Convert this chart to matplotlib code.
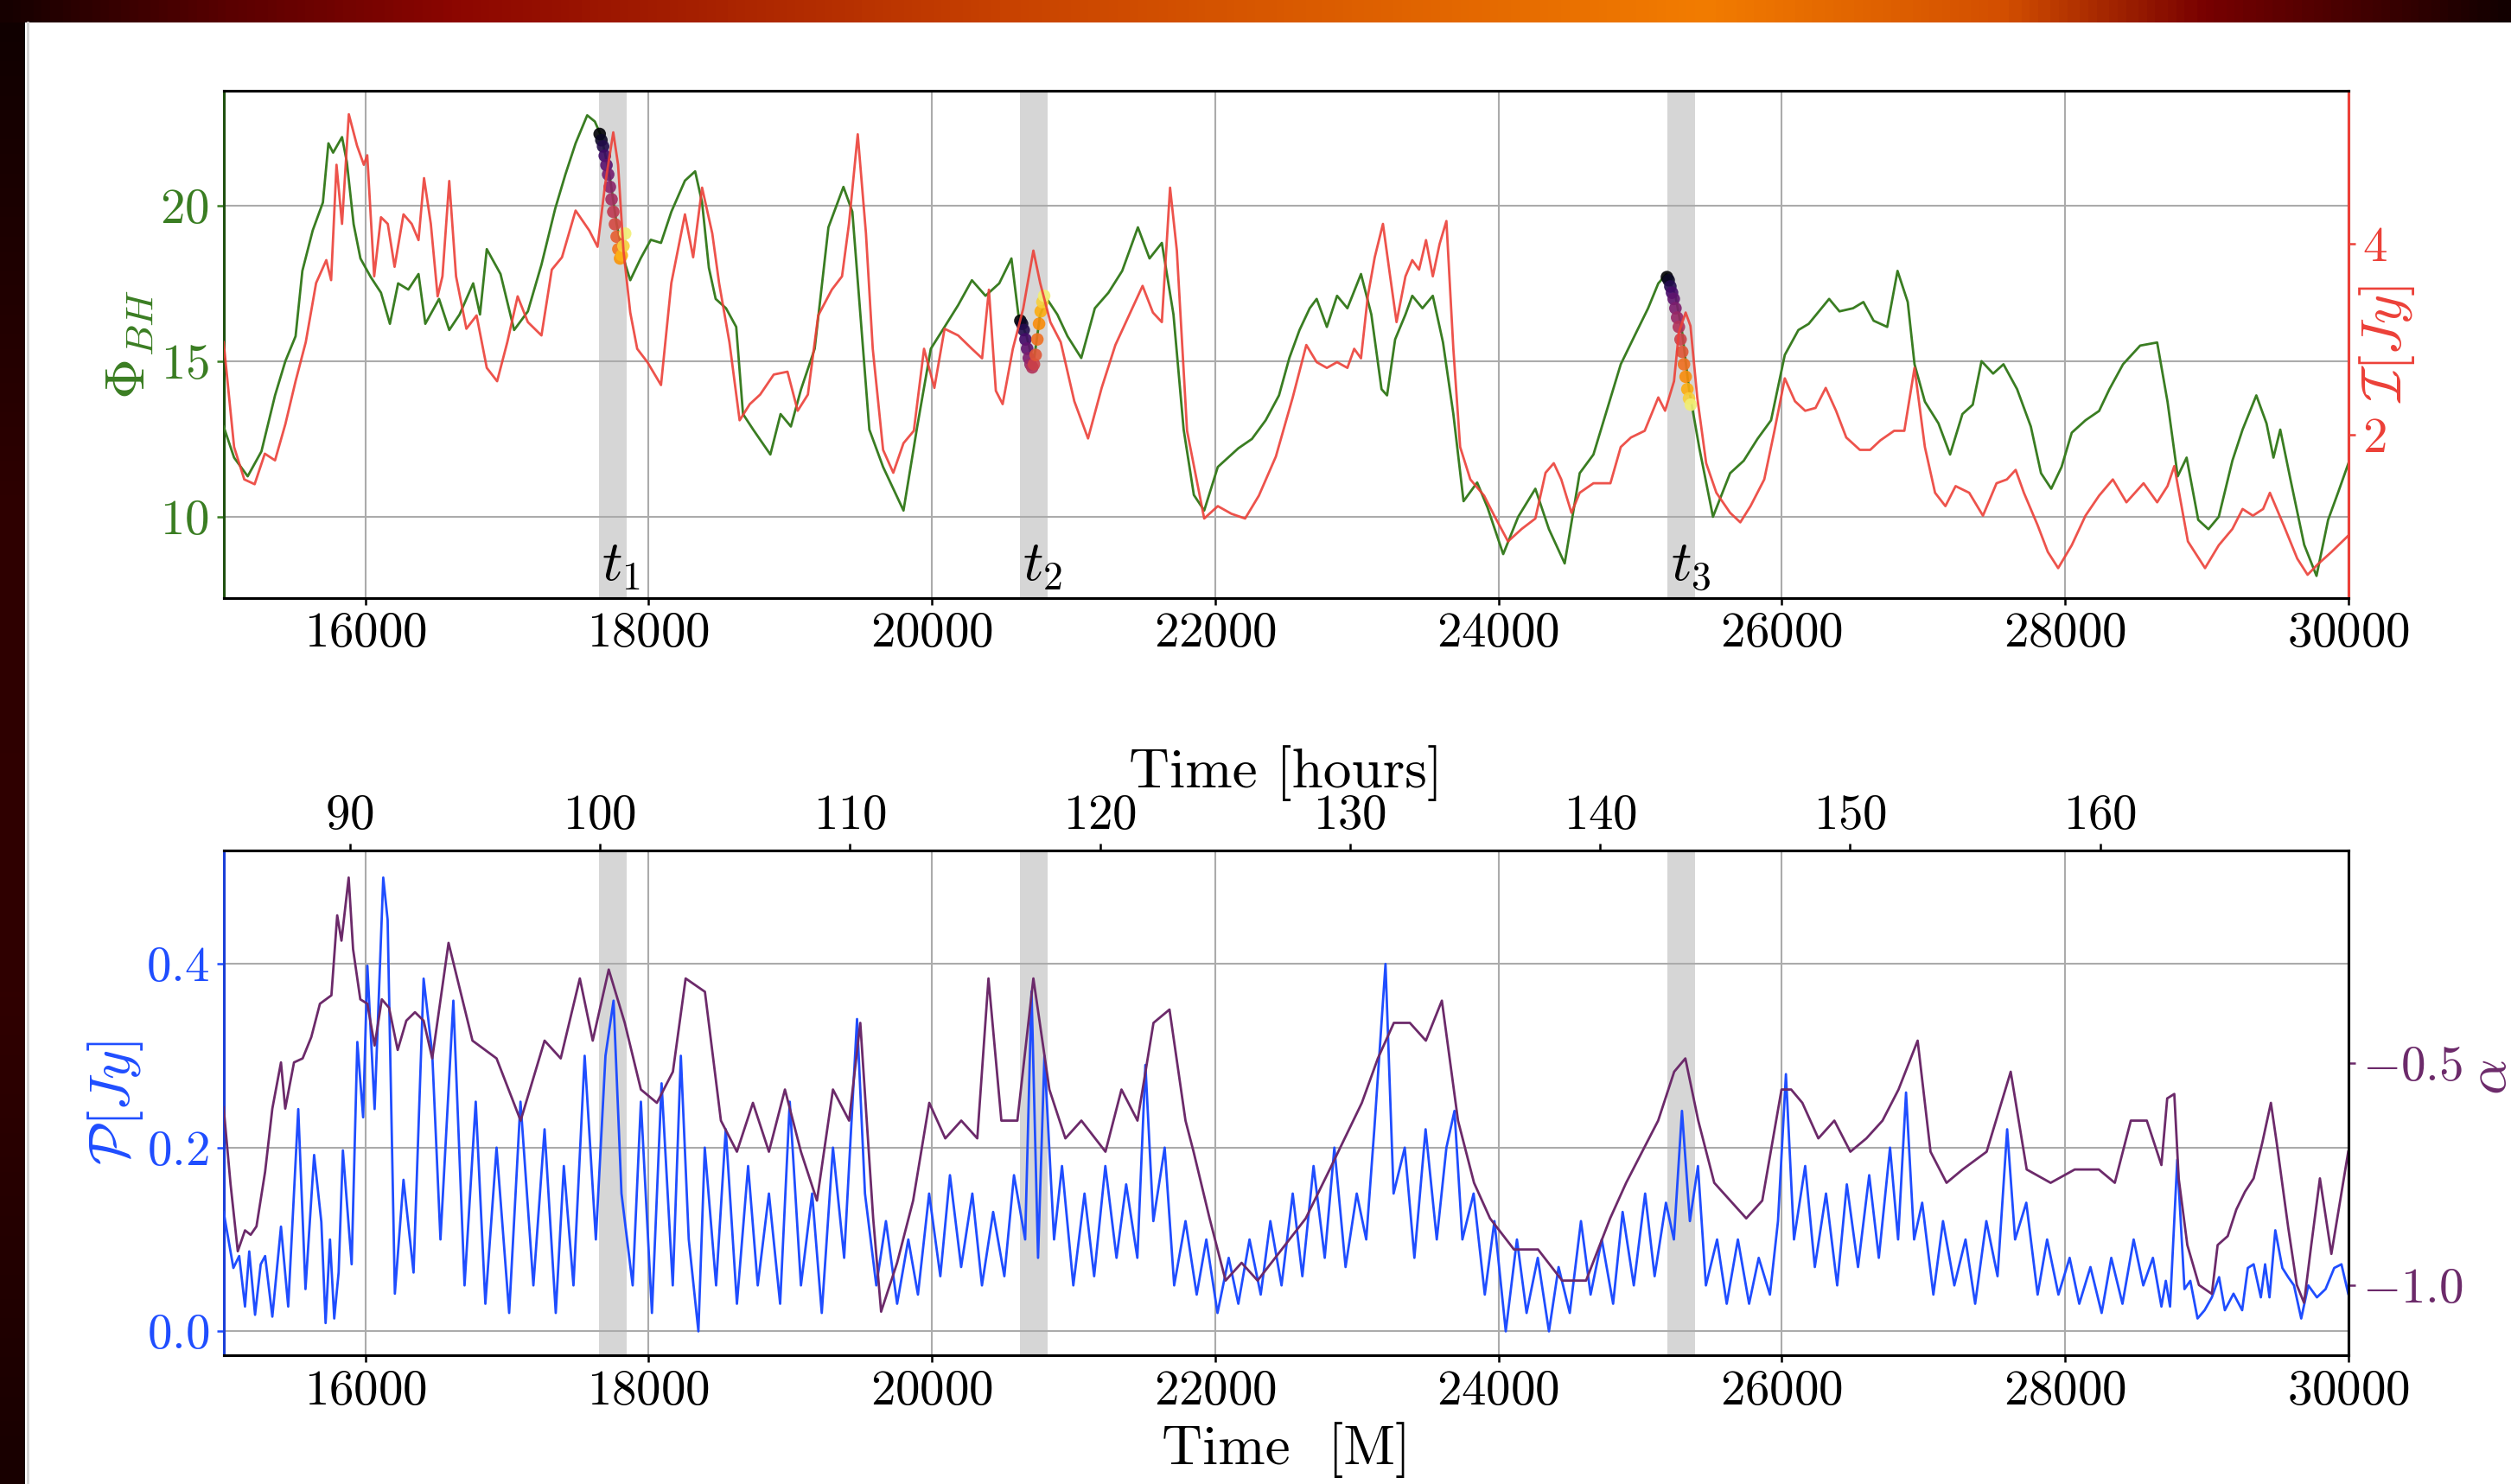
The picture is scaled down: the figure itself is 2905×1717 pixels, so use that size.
import numpy as np
import matplotlib.pyplot as plt
from matplotlib.colors import LinearSegmentedColormap

plt.rcParams.update({
    'font.family': 'serif',
    'font.serif': ['cmr10'],
    'mathtext.fontset': 'cm',
    'axes.formatter.use_mathtext': True,
})

# ---- data (time in M) ----
phi_pts = [(15000,12.9),(15074,11.9),(15170,11.3),(15267,12.1),(15363,13.9),(15436,15.0),(15508,15.8),(15556,17.9),(15629,19.2),(15701,20.1),(15740,22.0),(15773,21.7),(15836,22.2),(15870,21.4),(15918,19.4),(15966,18.3),(16039,17.7),(16111,17.2),(16174,16.2),(16232,17.5),(16304,17.3),(16376,17.8),(16424,16.2),(16521,17.0),(16593,16.0),(16666,16.5),(16762,17.5),(16810,16.5),(16858,18.6),(16955,17.8),(17051,16.0),(17148,16.6),(17244,18.1),(17341,19.9),(17413,21.0),(17485,22.0),(17567,22.9),(17621,22.7),(17669,22.2),(17727,20.9),(17775,19.4),(17823,18.3),(17871,17.6),(17944,18.3),(18016,18.9),(18088,18.8),(18161,19.8),(18257,20.8),(18329,21.1),(18378,20.1),(18426,18.0),(18474,17.0),(18547,16.7),(18619,16.1),(18667,13.3),(18739,12.8),(18860,12.0),(18932,13.3),(19005,12.9),(19077,14.1),(19173,15.4),(19270,19.3),(19376,20.6),(19439,19.8),(19487,17.0),(19559,12.8),(19656,11.6),(19800,10.2),(19897,12.9),(19993,15.4),(20090,16.1),(20186,16.8),(20283,17.6),(20379,17.1),(20476,17.5),(20562,18.3),(20611,16.5),(20669,15.8),(20717,14.9),(20765,16.5),(20813,17.0),(20886,16.5),(20958,15.8),(21055,15.1),(21151,16.7),(21247,17.2),(21344,17.9),(21455,19.3),(21537,18.3),(21624,18.8),(21706,16.5),(21778,12.8),(21850,10.7),(21923,10.2),(22019,11.6),(22164,12.2),(22260,12.5),(22357,13.1),(22451,13.9),(22524,15.1),(22596,16.0),(22668,16.7),(22717,17.0),(22789,16.1),(22861,17.1),(22934,16.7),(23030,17.8),(23103,16.5),(23175,14.1),(23214,13.9),(23271,15.7),(23344,16.5),(23392,17.1),(23464,16.7),(23537,17.1),(23609,15.6),(23682,13.3),(23754,10.5),(23850,11.1),(23923,10.3),(24034,8.8),(24140,10.0),(24261,10.9),(24357,9.6),(24468,8.5),(24574,11.4),(24671,12.0),(24791,13.8),(24864,14.9),(24960,15.8),(25057,16.7),(25129,17.5),(25187,17.8),(25250,17.1),(25298,15.9),(25346,14.1),(25419,12.2),(25515,10.0),(25636,11.4),(25732,11.8),(25829,12.5),(25925,13.1),(26022,15.2),(26118,16.0),(26191,16.2),(26263,16.6),(26335,17.0),(26408,16.6),(26504,16.7),(26577,16.9),(26649,16.3),(26745,16.1),(26818,17.9),(26890,16.9),(26938,14.9),(27011,13.7),(27107,13.0),(27189,12.0),(27276,13.3),(27349,13.6),(27411,15.0),(27493,14.6),(27566,14.9),(27662,14.1),(27759,12.9),(27831,11.4),(27903,10.9),(27976,11.6),(28048,12.7),(28145,13.1),(28241,13.4),(28314,14.1),(28410,14.9),(28531,15.5),(28651,15.6),(28724,13.7),(28796,11.3),(28859,11.9),(28941,9.9),(29013,9.6),(29086,10.0),(29182,11.8),(29254,12.8),(29351,13.9),(29423,13.0),(29472,11.9),(29520,12.8),(29592,11.2),(29689,9.1),(29776,8.1),(29858,9.9),(29930,10.8),(30000,11.7)]

flux_pts = [(15000,2.97),(15074,1.87),(15146,1.53),(15219,1.48),(15291,1.80),(15363,1.73),(15436,2.11),(15508,2.56),(15580,2.97),(15653,3.59),(15725,3.83),(15759,3.62),(15797,4.83),(15836,4.21),(15884,5.36),(15942,5.03),(15990,4.83),(16014,4.93),(16063,3.66),(16111,4.28),(16159,4.21),(16207,3.76),(16270,4.31),(16328,4.21),(16376,4.04),(16415,4.69),(16463,4.21),(16511,3.45),(16545,3.66),(16593,4.66),(16641,3.66),(16714,3.11),(16786,3.25),(16858,2.70),(16931,2.56),(17003,2.97),(17076,3.45),(17148,3.18),(17244,3.04),(17317,3.73),(17389,3.86),(17485,4.35),(17582,4.14),(17640,3.97),(17693,4.62),(17751,5.17),(17785,4.83),(17823,3.93),(17871,3.28),(17920,2.90),(17992,2.76),(18088,2.52),(18161,3.59),(18257,4.31),(18315,3.86),(18378,4.59),(18450,4.11),(18498,3.59),(18571,2.97),(18643,2.15),(18715,2.32),(18788,2.42),(18884,2.63),(18981,2.66),(19053,2.25),(19125,2.42),(19198,3.25),(19294,3.52),(19366,3.66),(19415,4.21),(19477,5.15),(19535,4.11),(19583,2.90),(19656,1.84),(19728,1.60),(19800,1.91),(19873,2.04),(19945,2.90),(20018,2.49),(20090,3.11),(20186,3.04),(20283,2.90),(20355,2.80),(20403,3.52),(20452,2.46),(20500,2.32),(20572,2.90),(20645,3.32),(20717,3.93),(20765,3.59),(20837,3.18),(20910,2.97),(21006,2.35),(21103,1.96),(21199,2.49),(21296,2.94),(21392,3.25),(21488,3.56),(21561,3.28),(21624,3.18),(21682,4.59),(21730,3.93),(21802,2.04),(21923,1.12),(22019,1.25),(22115,1.17),(22212,1.12),(22309,1.36),(22429,1.77),(22548,2.39),(22644,2.94),(22717,2.76),(22789,2.70),(22861,2.76),(22934,2.70),(22982,2.90),(23030,2.80),(23078,3.45),(23127,3.86),(23185,4.21),(23233,3.69),(23281,3.18),(23344,3.66),(23392,3.83),(23440,3.73),(23489,4.04),(23537,3.66),(23585,4.00),(23633,4.24),(23682,2.90),(23730,1.87),(23802,1.53),(23899,1.36),(23971,1.15),(24068,0.88),(24164,1.01),(24261,1.12),(24333,1.60),(24391,1.70),(24444,1.53),(24516,1.18),(24574,1.39),(24671,1.49),(24791,1.49),(24864,1.87),(24936,1.97),(25033,2.04),(25129,2.39),(25177,2.25),(25240,2.56),(25274,3.07),(25322,3.28),(25356,3.14),(25404,2.39),(25467,1.70),(25539,1.39),(25636,1.18),(25708,1.08),(25780,1.25),(25877,1.53),(25949,2.04),(26022,2.59),(26094,2.35),(26166,2.25),(26239,2.28),(26311,2.49),(26384,2.25),(26456,1.97),(26552,1.84),(26625,1.84),(26697,1.94),(26794,2.04),(26866,2.04),(26938,2.70),(27011,1.87),(27083,1.39),(27156,1.25),(27228,1.46),(27324,1.39),(27421,1.15),(27517,1.49),(27590,1.53),(27652,1.63),(27710,1.39),(27807,1.05),(27879,0.77),(27952,0.60),(28048,0.84),(28145,1.15),(28241,1.36),(28338,1.53),(28434,1.29),(28555,1.49),(28651,1.29),(28724,1.46),(28772,1.67),(28868,0.88),(28989,0.60),(29086,0.84),(29182,1.01),(29254,1.22),(29327,1.15),(29399,1.22),(29447,1.39),(29544,1.05),(29640,0.70),(29713,0.53),(29785,0.64),(29882,0.77),(30000,0.94)]

pol_pts = [(15000,0.13),(15069,0.069),(15110,0.082),(15151,0.027),(15181,0.087),(15222,0.018),(15262,0.073),(15293,0.082),(15344,0.016),(15405,0.114),(15456,0.027),(15527,0.242),(15578,0.046),(15639,0.192),(15690,0.119),(15720,0.009),(15751,0.10),(15781,0.014),(15812,0.064),(15842,0.197),(15904,0.073),(15944,0.315),(15985,0.233),(16015,0.398),(16066,0.242),(16127,0.494),(16158,0.448),(16209,0.041),(16270,0.165),(16341,0.064),(16412,0.384),(16473,0.302),(16531,0.10),(16622,0.36),(16701,0.05),(16780,0.25),(16848,0.03),(16927,0.20),(17016,0.02),(17096,0.25),(17187,0.05),(17266,0.22),(17345,0.02),(17402,0.18),(17470,0.05),(17549,0.30),(17628,0.10),(17696,0.30),(17753,0.36),(17809,0.15),(17888,0.05),(17946,0.25),(18024,0.02),(18092,0.27),(18171,0.05),(18228,0.30),(18284,0.10),(18352,0.0),(18397,0.20),(18477,0.05),(18545,0.22),(18624,0.03),(18703,0.18),(18771,0.05),(18850,0.15),(18929,0.03),(18997,0.25),(19076,0.05),(19155,0.15),(19223,0.02),(19302,0.20),(19381,0.08),(19472,0.34),(19528,0.15),(19608,0.05),(19676,0.12),(19755,0.03),(19834,0.10),(19902,0.04),(19981,0.15),(20060,0.06),(20128,0.17),(20207,0.07),(20286,0.15),(20354,0.05),(20433,0.13),(20512,0.06),(20580,0.17),(20659,0.10),(20704,0.37),(20750,0.08),(20795,0.30),(20863,0.10),(20919,0.18),(20999,0.05),(21078,0.15),(21146,0.06),(21225,0.18),(21304,0.08),(21372,0.16),(21451,0.08),(21508,0.29),(21564,0.12),(21644,0.20),(21711,0.05),(21791,0.12),(21870,0.04),(21938,0.10),(22017,0.02),(22096,0.08),(22164,0.03),(22243,0.10),(22322,0.04),(22390,0.12),(22469,0.05),(22548,0.15),(22616,0.06),(22695,0.18),(22774,0.08),(22842,0.20),(22921,0.07),(23000,0.15),(23067,0.10),(23124,0.22),(23203,0.40),(23260,0.15),(23339,0.20),(23407,0.08),(23486,0.22),(23565,0.10),(23633,0.20),(23690,0.24),(23746,0.10),(23825,0.15),(23904,0.04),(23972,0.12),(24052,0.0),(24131,0.10),(24199,0.02),(24278,0.08),(24357,0.0),(24425,0.07),(24504,0.02),(24583,0.12),(24651,0.04),(24730,0.10),(24810,0.03),(24877,0.13),(24956,0.05),(25036,0.15),(25103,0.06),(25183,0.14),(25239,0.10),(25296,0.24),(25352,0.12),(25409,0.18),(25465,0.05),(25544,0.10),(25612,0.03),(25691,0.10),(25770,0.03),(25838,0.08),(25917,0.04),(25974,0.12),(26030,0.28),(26087,0.10),(26166,0.18),(26234,0.07),(26313,0.15),(26392,0.05),(26460,0.16),(26539,0.07),(26618,0.17),(26686,0.08),(26765,0.20),(26822,0.10),(26878,0.26),(26935,0.10),(26992,0.14),(27071,0.04),(27139,0.12),(27219,0.05),(27298,0.10),(27366,0.03),(27445,0.12),(27524,0.06),(27592,0.22),(27648,0.10),(27727,0.14),(27807,0.04),(27874,0.10),(27954,0.04),(28033,0.08),(28101,0.03),(28180,0.07),(28259,0.02),(28327,0.08),(28406,0.03),(28485,0.10),(28553,0.05),(28621,0.08),(28681,0.027),(28712,0.055),(28742,0.027),(28793,0.187),(28844,0.046),(28885,0.055),(28936,0.014),(28986,0.023),(29037,0.037),(29088,0.059),(29129,0.023),(29190,0.041),(29251,0.023),(29291,0.069),(29332,0.073),(29383,0.037),(29413,0.073),(29444,0.037),(29485,0.11),(29535,0.069),(29576,0.059),(29617,0.05),(29668,0.014),(29718,0.05),(29779,0.037),(29840,0.046),(29901,0.069),(29952,0.073),(30000,0.041)]

alpha_pts = [(15000,-0.60),(15049,-0.773),(15100,-0.924),(15151,-0.877),(15191,-0.887),(15232,-0.868),(15293,-0.745),(15344,-0.603),(15405,-0.499),(15435,-0.603),(15497,-0.499),(15558,-0.49),(15619,-0.442),(15680,-0.367),(15761,-0.348),(15802,-0.168),(15832,-0.225),(15883,-0.083),(15914,-0.244),(15965,-0.357),(16015,-0.367),(16066,-0.461),(16117,-0.357),(16168,-0.376),(16229,-0.471),(16290,-0.405),(16351,-0.386),(16412,-0.405),(16473,-0.49),(16588,-0.23),(16757,-0.45),(16927,-0.49),(17097,-0.63),(17266,-0.45),(17380,-0.49),(17515,-0.31),(17606,-0.45),(17719,-0.29),(17832,-0.41),(17946,-0.56),(18059,-0.59),(18172,-0.52),(18262,-0.31),(18398,-0.34),(18511,-0.63),(18624,-0.70),(18737,-0.59),(18850,-0.70),(18963,-0.56),(19076,-0.70),(19189,-0.81),(19302,-0.56),(19416,-0.63),(19495,-0.41),(19586,-0.85),(19642,-1.06),(19755,-0.95),(19868,-0.81),(19982,-0.59),(20095,-0.67),(20208,-0.63),(20321,-0.67),(20400,-0.31),(20491,-0.63),(20604,-0.63),(20717,-0.31),(20830,-0.56),(20943,-0.67),(21056,-0.63),(21226,-0.70),(21339,-0.56),(21452,-0.63),(21565,-0.41),(21678,-0.38),(21791,-0.63),(21848,-0.70),(21961,-0.85),(22074,-0.99),(22187,-0.95),(22300,-0.99),(22470,-0.92),(22640,-0.85),(22809,-0.74),(23036,-0.59),(23149,-0.49),(23262,-0.41),(23375,-0.41),(23488,-0.45),(23601,-0.36),(23715,-0.63),(23828,-0.77),(23941,-0.85),(24110,-0.92),(24280,-0.92),(24450,-0.99),(24619,-0.99),(24789,-0.85),(24902,-0.77),(25015,-0.70),(25128,-0.63),(25241,-0.52),(25320,-0.49),(25411,-0.63),(25524,-0.77),(25637,-0.81),(25750,-0.85),(25863,-0.81),(25999,-0.56),(26067,-0.56),(26146,-0.59),(26259,-0.67),(26372,-0.63),(26485,-0.70),(26598,-0.67),(26712,-0.63),(26825,-0.56),(26960,-0.45),(27051,-0.70),(27164,-0.77),(27277,-0.74),(27447,-0.70),(27617,-0.52),(27730,-0.74),(27899,-0.77),(28069,-0.74),(28239,-0.74),(28352,-0.77),(28465,-0.63),(28578,-0.63),(28681,-0.73),(28722,-0.58),(28772,-0.57),(28803,-0.76),(28864,-0.91),(28946,-1.00),(29037,-1.02),(29078,-0.91),(29149,-0.89),(29210,-0.83),(29271,-0.79),(29332,-0.76),(29393,-0.68),(29454,-0.59),(29495,-0.68),(29576,-0.87),(29637,-1.00),(29688,-1.04),(29739,-0.91),(29800,-0.76),(29881,-0.93),(30000,-0.70)]

# shaded windows t1, t2, t3
windows = [(17650, 17845), (20620, 20815), (25195, 25390)]

# coloured tracks on Phi inside the windows
track_t = [
    [17655, 17667, 17679, 17691, 17703, 17715, 17727, 17739, 17751, 17763, 17775, 17787, 17799, 17811, 17823, 17835],
    [20625, 20637, 20649, 20661, 20673, 20685, 20697, 20709, 20721, 20733, 20745, 20757, 20769, 20781, 20793],
    [25190, 25202, 25214, 25226, 25238, 25250, 25262, 25274, 25286, 25298, 25310, 25322, 25334, 25346, 25358],
]
track_phi = [
    [22.3, 22.1, 21.9, 21.6, 21.3, 21.0, 20.6, 20.2, 19.8, 19.4, 19.0, 18.6, 18.3, 18.4, 18.7, 19.1],
    [16.3, 16.2, 16.0, 15.7, 15.4, 15.1, 14.9, 14.8, 14.9, 15.2, 15.7, 16.2, 16.6, 16.9, 17.1],
    [17.7, 17.6, 17.4, 17.2, 17.0, 16.7, 16.4, 16.1, 15.7, 15.3, 14.9, 14.5, 14.1, 13.8, 13.6],
]

m_ticks = list(range(16000, 30001, 2000))
hour_ticks = list(range(90, 161, 10))
M_TO_HOURS = 20.39 / 3600.0

phi_t, phi = np.array(phi_pts).T
flux_t, flux = np.array(flux_pts).T
pol_t, pol = np.array(pol_pts).T
alpha_t, alpha = np.array(alpha_pts).T

GREEN = '#3a7d22'
RED = '#ec4038'
BLUE = '#1f4dff'
PURPLE = '#6c2a6a'
TICK = 41
LAB = 47

W, H = 2905, 1717
fig = plt.figure(figsize=(W / 100, H / 100), dpi=100)

# slide frame decoration
band = 26 / H
bar = fig.add_axes([0, 1 - band, 1, band])
bar_cmap = LinearSegmentedColormap.from_list('bar', [
    (0.0, '#160000'), (0.09, '#5a0000'), (0.18, '#8c0600'), (0.40, '#c84200'),
    (0.68, '#f27c00'), (0.80, '#d24e00'), (0.88, '#780000'), (1.0, '#120000')])
bar.imshow(np.linspace(0, 1, 600)[None, :], aspect='auto', cmap=bar_cmap)
bar.set_axis_off()
side = fig.add_axes([0, 0, 28 / W, 1 - band])
side_cmap = LinearSegmentedColormap.from_list('side', ['#100000', '#2e0000', '#300000', '#180000'])
side.imshow(np.linspace(0, 1, 300)[:, None], aspect='auto', cmap=side_cmap)
side.set_axis_off()
fig.add_artist(plt.Line2D([32 / W, 32 / W], [0, 1 - band], color='#d2d2d2', lw=2))

x0 = 258.7 / W
w = (2716.7 - 258.7) / W
ax1 = fig.add_axes([x0, 1 - 691.5 / H, w, (691.5 - 104.6) / H])
ax2 = fig.add_axes([x0, 1 - 1568 / H, w, (1568 - 984) / H])

# ---------------- top panel ----------------
ax1r = ax1.twinx()
for a, b in windows:
    ax1.axvspan(a, b, color='#d6d6d6', zorder=0.3, lw=0)
ax1.grid(True, color='#ababab', lw=1.5)
ax1.set_axisbelow(True)
ax1.plot(phi_t, phi, color=GREEN, lw=2.0, zorder=3)
ax1r.plot(flux_t, flux, color=RED, lw=2.0, alpha=0.9)
for tt, pp in zip(track_t, track_phi):
    ax1.scatter(tt, pp, c=np.linspace(0, 1, len(tt)), cmap='inferno', vmin=0, vmax=1.05,
                s=110, zorder=4, edgecolors='none', alpha=0.9)
for i, (a, b) in enumerate(windows):
    ax1.text(a + 20, 7.95, r'$t_{%d}$' % (i + 1), fontsize=LAB, ha='left', va='baseline', zorder=5)

ax1.set_xlim(15000, 30000)
ax1.set_ylim(7.4, 23.7)
ax1r.set_ylim(0.29, 5.61)
ax1.set_xticks(m_ticks)
ax1.set_yticks([10, 15, 20])
ax1r.set_yticks([2, 4])
ax1.tick_params(axis='x', labelsize=TICK, length=6, width=1.8, pad=6)
ax1.tick_params(axis='y', labelsize=TICK, length=6, width=1.8, colors=GREEN, pad=6)
ax1r.tick_params(axis='y', labelsize=TICK, length=6, width=1.8, colors=RED, pad=6)
ax1.set_ylabel(r'$\Phi_{BH}$', color=GREEN, fontsize=LAB)
ax1.yaxis.set_label_coords(-0.032, 0.5)
ax1r.set_ylabel(r'$\mathcal{I}[Jy]$', color=RED, fontsize=LAB)
ax1r.yaxis.set_label_coords(1.004, 0.5)
for s in ax1.spines.values():
    s.set_linewidth(2.2)
for s in ax1r.spines.values():
    s.set_linewidth(2.2)
ax1.spines['left'].set_color('#1f5010')
ax1r.spines['left'].set_visible(False)
ax1r.spines['right'].set_color(RED)

# ---------------- bottom panel ----------------
ax2r = ax2.twinx()
for a, b in windows:
    ax2.axvspan(a, b, color='#d6d6d6', zorder=0.3, lw=0)
ax2.grid(True, color='#ababab', lw=1.5)
ax2.set_axisbelow(True)
ax2.plot(pol_t, pol, color=BLUE, lw=2.0, zorder=3)
ax2r.plot(alpha_t, alpha, color=PURPLE, lw=2.0)

ax2.set_xlim(15000, 30000)
ax2.set_ylim(-0.026, 0.5235)
ax2r.set_ylim(-1.158, -0.022)
ax2.set_xticks(m_ticks)
ax2.set_yticks([0.0, 0.2, 0.4])
ax2r.set_yticks([-1.0, -0.5])
ax2.tick_params(axis='x', labelsize=TICK, length=6, width=1.8, pad=6)
ax2.tick_params(axis='y', labelsize=TICK, length=6, width=1.8, colors=BLUE, pad=6)
ax2r.tick_params(axis='y', labelsize=TICK, length=6, width=1.8, colors=PURPLE, pad=6)
ax2.set_ylabel(r'$\mathcal{P}[Jy]$', color=BLUE, fontsize=LAB)
ax2.yaxis.set_label_coords(-0.037, 0.5)
ax2r.set_ylabel(r'$\alpha$', color=PURPLE, fontsize=LAB)
ax2r.yaxis.set_label_coords(1.056, 0.55)
ax2.set_xlabel('Time  [M]', fontsize=LAB, labelpad=7)
for s in ax2.spines.values():
    s.set_linewidth(2.2)
for s in ax2r.spines.values():
    s.set_linewidth(2.2)
ax2.spines['left'].set_color('#1a3fd8')
ax2r.spines['left'].set_visible(False)

sec = ax2.secondary_xaxis('top', functions=(lambda m: m * M_TO_HOURS, lambda h: h / M_TO_HOURS))
sec.set_xticks(hour_ticks)
sec.tick_params(labelsize=TICK, length=6, width=1.8, pad=4)
sec.set_xlabel('Time [hours]', fontsize=LAB, labelpad=6)

fig.savefig('out.png', dpi=100)
